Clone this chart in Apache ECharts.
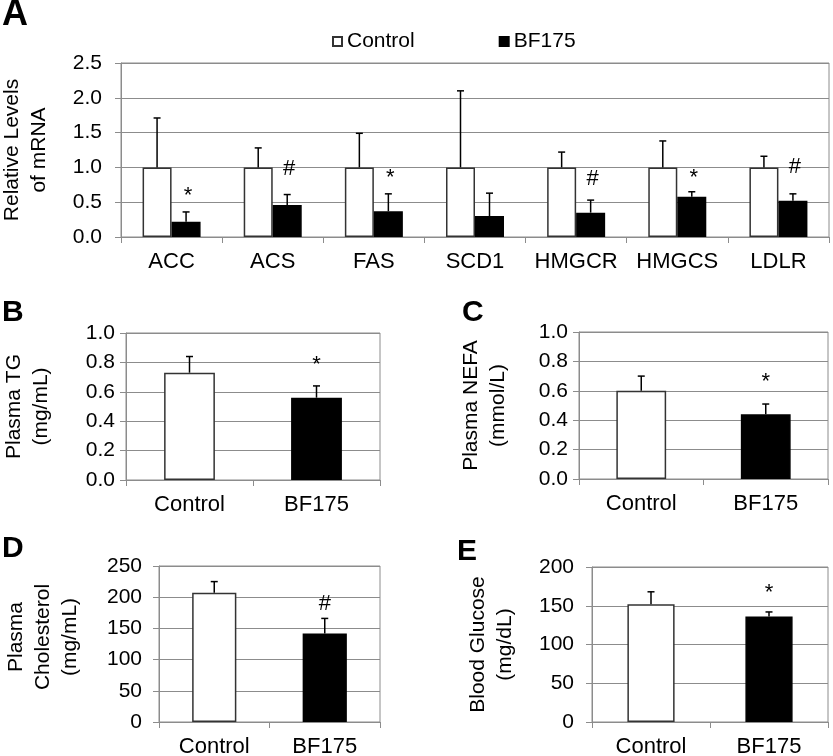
<!DOCTYPE html>
<html>
<head>
<meta charset="utf-8">
<script src="https://cdn.jsdelivr.net/npm/echarts@6/dist/echarts.min.js"></script>
<style>
  html, body { margin: 0; padding: 0; background: #fff; }
  #chart { width: 833px; height: 756px; }
</style>
</head>
<body>
<div id="chart"></div>
<script>
// panel A: mRNA levels
const genes = ['ACC', 'ACS', 'FAS', 'SCD1', 'HMGCR', 'HMGCS', 'LDLR']
const ctrlMean = [1.0, 1.0, 1.0, 1.0, 1.0, 1.0, 1.0]
const ctrlErr = [0.71, 0.28, 0.49, 1.10, 0.22, 0.38, 0.16]
const bfMean = [0.22, 0.46, 0.37, 0.30, 0.35, 0.58, 0.52]
const bfErr = [0.14, 0.15, 0.25, 0.33, 0.18, 0.07, 0.10]
const geneMarks = ['*', '#', '*', '', '#', '*', '#']
const geneMarkY = [0.59, 0.98, 0.85, null, 0.83, 0.85, 1.0]

// panels B-E
const groups = ['Control', 'BF175']
const tgMean = [0.73, 0.56]
const tgErr = [0.11, 0.08]
const nefaMean = [0.60, 0.44]
const nefaErr = [0.10, 0.07]
const cholMean = [207, 142]
const cholErr = [18, 24]
const glucMean = [152, 136]
const glucErr = [16, 6]
const tgMark = ['', '*'], tgMarkY = [null, 0.78]
const nefaMark = ['', '*'], nefaMarkY = [null, 0.66]
const cholMark = ['', '#'], cholMarkY = [null, 189]
const glucMark = ['', '*'], glucMarkY = [null, 166]

const FONT = "'Liberation Sans', Arial, Helvetica, sans-serif"
const GRAY = '#8c8c8c'
const EDGE = '#333'

const panels = [
  { letter: 'A', grid: { left: 121, top: 63, width: 708, height: 174 }, max: 2.5, interval: 0.5, dec: 1,
    name: 'Relative Levels\nof mRNA', nameGap: 68, labelMargin: 19, cats: genes, namePad: 0 },
  { letter: 'B', grid: { left: 126, top: 333, width: 254, height: 147 }, max: 1, interval: 0.2, dec: 1,
    name: 'Plasma TG\n(mg/mL)', nameGap: 71, labelMargin: 11, cats: groups, namePad: 0 },
  { letter: 'C', grid: { left: 579, top: 332, width: 249, height: 147 }, max: 1, interval: 0.2, dec: 1,
    name: 'Plasma NEFA\n(mmol/L)', nameGap: 67, labelMargin: 11, cats: groups, namePad: 0 },
  { letter: 'D', grid: { left: 159, top: 566, width: 221, height: 156 }, max: 250, interval: 50, dec: 0,
    name: 'Plasma\nCholesterol\n(mg/mL)', nameGap: 75, labelMargin: 17, cats: groups, namePad: 14 },
  { letter: 'E', grid: { left: 592, top: 567, width: 236, height: 155 }, max: 200, interval: 50, dec: 0,
    name: 'Blood Glucose\n(mg/dL)', nameGap: 73, labelMargin: 18, cats: groups, namePad: 0 }
]

const letterPos = [
  { x: 2, y: 15, size: 36 },
  { x: 2, y: 313, size: 30 },
  { x: 462, y: 313, size: 30 },
  { x: 2, y: 549, size: 30 },
  { x: 457, y: 552, size: 30 }
]

function errorSeries(idx, means, errs, offset) {
  return {
    type: 'custom',
    xAxisIndex: idx,
    yAxisIndex: idx,
    silent: true,
    z: 4,
    data: means.map((m, i) => [i, m, errs[i]]),
    encode: { x: 0, y: 1 },
    renderItem: (params, api) => {
      const i = api.value(0)
      const m = api.value(1)
      const e = api.value(2)
      const p0 = api.coord([i, m])
      const p1 = api.coord([i, m + e])
      const x = p0[0] + offset
      const style = { stroke: '#000', lineWidth: 1.5 }
      return {
        type: 'group',
        children: [
          { type: 'line', shape: { x1: x, y1: p0[1], x2: x, y2: p1[1] }, style },
          { type: 'line', shape: { x1: x - 3.5, y1: p1[1], x2: x + 3.5, y2: p1[1] }, style }
        ]
      }
    }
  }
}

function markSeries(idx, marks, ys, offset) {
  const data = []
  ys.forEach((y, i) => {
    if (y !== null && marks[i]) data.push([i, y])
  })
  return {
    type: 'custom',
    xAxisIndex: idx,
    yAxisIndex: idx,
    silent: true,
    z: 5,
    data,
    encode: { x: 0, y: 1 },
    renderItem: (params, api) => {
      const i = api.value(0)
      const p = api.coord([i, api.value(1)])
      return {
        type: 'text',
        x: p[0] + offset,
        y: p[1],
        style: {
          text: marks[i],
          fill: '#000',
          fontFamily: FONT,
          fontSize: 22,
          align: 'center',
          verticalAlign: 'middle'
        }
      }
    }
  }
}

const chart = echarts.init(document.getElementById('chart'), null, { renderer: 'canvas' })

const option = {
  backgroundColor: '#fff',
  animation: false,
  textStyle: { fontFamily: FONT, color: '#000' },
  legend: {
    data: ['Control', 'BF175'],
    left: 332,
    top: 31,
    padding: 0,
    itemWidth: 9,
    itemHeight: 9,
    itemGap: 84,
    icon: 'rect',
    selectedMode: false,
    textStyle: { fontFamily: FONT, fontSize: 21, color: '#000' }
  },
  graphic: panels.map((p, i) => ({
    type: 'text',
    x: letterPos[i].x,
    y: letterPos[i].y,
    style: {
      text: p.letter,
      fill: '#000',
      fontFamily: FONT,
      fontWeight: 'bold',
      fontSize: letterPos[i].size,
      verticalAlign: 'middle'
    }
  })),
  grid: panels.map((p) => Object.assign({
    show: true,
    borderColor: GRAY,
    borderWidth: 1,
    backgroundColor: 'transparent',
    containLabel: false,
    outerBoundsMode: 'none'
  }, p.grid)),
  xAxis: panels.map((p, i) => ({
    type: 'category',
    gridIndex: i,
    data: p.cats,
    axisLine: { lineStyle: { color: GRAY, width: 1 } },
    axisTick: { show: true, length: 6, lineStyle: { color: GRAY } },
    axisLabel: { fontFamily: FONT, fontSize: 22, color: '#000', margin: 14, interval: 0 },
    splitLine: { show: false }
  })),
  yAxis: panels.map((p, i) => ({
    type: 'value',
    gridIndex: i,
    min: 0,
    max: p.max,
    interval: p.interval,
    name: p.name,
    nameLocation: 'middle',
    nameRotate: 90,
    nameGap: p.nameGap,
    nameTextStyle: {
      fontFamily: FONT,
      fontSize: 21,
      color: '#000',
      lineHeight: 27,
      padding: [0, 0, 0, p.namePad]
    },
    axisLine: { show: true, lineStyle: { color: GRAY, width: 1 } },
    axisTick: { show: true, length: 6, lineStyle: { color: GRAY } },
    axisLabel: {
      fontFamily: FONT,
      fontSize: 21,
      color: '#000',
      margin: p.labelMargin,
      formatter: (v) => v.toFixed(p.dec)
    },
    splitLine: { show: true, lineStyle: { color: GRAY, width: 1 } }
  })),
  series: []
}

// panel A bars
option.series.push({
  name: 'Control',
  type: 'bar',
  xAxisIndex: 0,
  yAxisIndex: 0,
  data: ctrlMean,
  barWidth: 29,
  barGap: '0%',
  itemStyle: { color: '#fff', borderColor: EDGE, borderWidth: 1.5 }
})
option.series.push({
  name: 'BF175',
  type: 'bar',
  xAxisIndex: 0,
  yAxisIndex: 0,
  data: bfMean,
  barWidth: 29,
  barGap: '0%',
  itemStyle: { color: '#000', borderColor: '#000', borderWidth: 1.5 }
})
option.series.push(errorSeries(0, ctrlMean, ctrlErr, -14.5))
option.series.push(errorSeries(0, bfMean, bfErr, 14.5))
option.series.push(markSeries(0, geneMarks, geneMarkY, 16.5))

// panels B-E
const small = [
  [tgMean, tgErr, tgMark, tgMarkY],
  [nefaMean, nefaErr, nefaMark, nefaMarkY],
  [cholMean, cholErr, cholMark, cholMarkY],
  [glucMean, glucErr, glucMark, glucMarkY]
]
small.forEach(([means, errs, marks, markY], k) => {
  const idx = k + 1
  option.series.push({
    name: 'panel' + panels[idx].letter,
    type: 'bar',
    xAxisIndex: idx,
    yAxisIndex: idx,
    barWidth: '40%',
    data: means.map((v, i) => ({
      value: v,
      itemStyle: i === 0
        ? { color: '#fff', borderColor: EDGE, borderWidth: 1.5 }
        : { color: '#000', borderColor: '#000', borderWidth: 1.5 }
    }))
  })
  option.series.push(errorSeries(idx, means, errs, 0))
  option.series.push(markSeries(idx, marks, markY, 0))
})

chart.setOption(option)
</script>
</body>
</html>
